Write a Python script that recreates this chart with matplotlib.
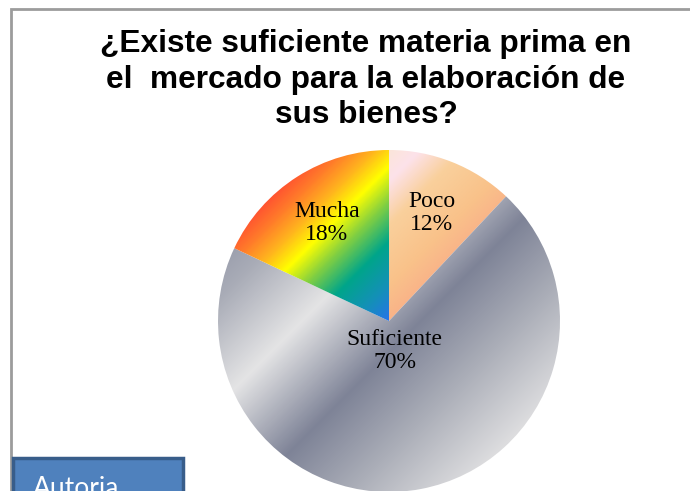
import numpy as np
import matplotlib.pyplot as plt
from matplotlib.colors import LinearSegmentedColormap, Normalize
from matplotlib.patches import Rectangle

# data
labels = ['Poco', 'Suficiente', 'Mucha']
values = [12, 70, 18]
label_dist = [0.68, 0.18, 0.68]
title = '¿Existe suficiente materia prima en\nel  mercado para la elaboración de\nsus bienes?'

# gradient stops per slice (position along diagonal, colour)
grad_poco = [(-0.75, '#fbe6d4'), (-0.58, '#fde2ea'), (-0.4, '#f9d09c'),
             (-0.15, '#f9c28a'), (0.05, '#f9ae88')]
grad_suf = [(-1.0, '#989cab'), (-0.8, '#a9acb7'), (-0.36, '#e4e4e5'),
            (0.13, '#7e8397'), (0.55, '#abaeb8'), (1.0, '#dddddf')]
grad_mucha = [(-1.0, '#ff5530'), (-0.9, '#ff7a2a'), (-0.77, '#ffb41e'),
              (-0.64, '#ffff00'), (-0.5, '#84d040'), (-0.33, '#00a58a'),
              (-0.15, '#1490b8'), (0.02, '#2a6ff0')]
grads = [grad_poco, grad_suf, grad_mucha]

W, H = 690, 491
cx, cy, r = 389, H - 321, 171

fig = plt.figure(figsize=(6.9, 4.91), dpi=100)
ax = fig.add_axes([0, 0, 1, 1])

wedges, _ = ax.pie(values, startangle=90, counterclock=False,
                   center=(cx, cy), radius=r,
                   wedgeprops=dict(facecolor='none', edgecolor='none'))

# diagonal gradient fill, clipped to each wedge
xs = np.linspace(cx - r, cx + r, 400)
ys = np.linspace(cy - r, cy + r, 400)
X, Y = np.meshgrid(xs, ys)
T = ((X - cx) - (Y - cy)) / np.sqrt(2) / r
for w, stops in zip(wedges, grads):
    lo, hi = stops[0][0], stops[-1][0]
    cmap = LinearSegmentedColormap.from_list(
        'g', [((p - lo) / (hi - lo), c) for p, c in stops])
    im = ax.imshow(T, cmap=cmap, norm=Normalize(lo, hi), origin='lower',
                   extent=(cx - r, cx + r, cy - r, cy + r),
                   interpolation='bilinear', zorder=1)
    im.set_clip_path(w)

# slice labels
for w, lab, v, d in zip(wedges, labels, values, label_dist):
    ang = np.deg2rad((w.theta1 + w.theta2) / 2)
    ax.text(cx + d * r * np.cos(ang), cy + d * r * np.sin(ang),
            f'{lab}\n{v}%', ha='center', va='center', fontsize=17,
            family='Liberation Serif', linespacing=1.15, zorder=3)

ax.set_xlim(0, W)
ax.set_ylim(0, H)
ax.set_aspect('equal')
ax.axis('off')

# chart frame
ax.add_patch(Rectangle((11, -20), W, H - 9 + 20, facecolor='none',
                       edgecolor='#9c9c9c', lw=2, zorder=0))

ax.text(366, H - 29, title, ha='center', va='top', fontsize=22.8,
        fontweight='bold', family='Liberation Sans', linespacing=1.24)

# "Autoria" box
ax.add_patch(Rectangle((12.5, -20), 170, H - 457.5 + 20, facecolor='#4f81bd',
                       edgecolor='#385d8a', lw=2.5, zorder=4))
ax.text(33, H - 496, 'Autoria', ha='left', va='baseline', fontsize=19,
        family='Lato', color='white', zorder=5)

fig.savefig('out.png', dpi=100)
